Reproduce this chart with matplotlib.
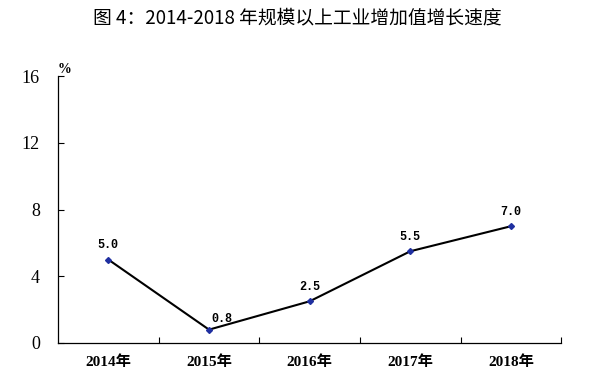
import numpy as np
import matplotlib.pyplot as plt

years = ["2014年", "2015年", "2016年", "2017年", "2018年"]
growth = [5.0, 0.8, 2.5, 5.5, 7.0]
yticks = [0, 4, 8, 12, 16]
title = "图 4：2014-2018 年规模以上工业增加值增长速度"

fig = plt.figure(figsize=(5.95, 3.88), dpi=100)
ax = fig.add_axes([0.0975, 0.116, 0.846, 0.688])

x = np.arange(len(years))
ax.plot(x, growth, color="black", lw=1.5, zorder=2)
ax.plot(x, growth, ls="none", marker="D", ms=3, color="#1f2fa0", zorder=3)

# label offsets in points (the 2015 label sits to the right of its point)
offsets = [(0, 6), (9, 3), (0, 6), (0, 6), (0, 6)]
for xi, v, off in zip(x, growth, offsets):
    ax.annotate(f"{v:.1f}", (xi, v), xytext=off, textcoords="offset points",
                ha="center", va="bottom", fontsize=8.5, fontweight="bold",
                family=["Liberation Mono"])

ax.set_xlim(-0.5, len(years) - 0.5)
ax.set_ylim(0, 16)
ax.set_yticks(yticks)
ax.set_yticklabels([str(t) for t in yticks], fontsize=13,
                   family=["Liberation Serif"])
ax.set_xticks(x)
ax.set_xticklabels(years, fontsize=11, fontweight="bold",
                   family=["Liberation Serif", "Noto Sans CJK SC"])
ax.set_xticks(np.arange(0.5, len(years), 1.0), minor=True)
ax.tick_params(axis="x", which="major", length=0, pad=9)
ax.tick_params(axis="x", which="minor", direction="in", length=4, width=0.8)
ax.tick_params(axis="y", direction="in", length=4, width=0.8, pad=13)

for s in ["top", "right"]:
    ax.spines[s].set_visible(False)
ax.spines["left"].set_linewidth(0.9)
ax.spines["bottom"].set_linewidth(0.9)

ax.text(0.0, 1.0, "%", transform=ax.transAxes, ha="left", va="bottom",
        fontsize=10, fontweight="bold", family=["Liberation Serif"])

fig.text(0.5, 0.955, title, ha="center", va="center", fontsize=13.5,
         family=["Noto Sans CJK SC", "DejaVu Sans"])

fig.savefig("out.png", dpi=100)
